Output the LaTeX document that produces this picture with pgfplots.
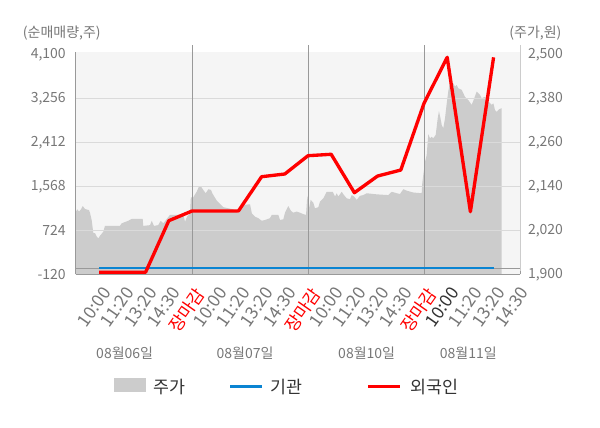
\documentclass[border=0pt]{standalone}
\usepackage{pgfplots}
\pgfplotsset{compat=1.18}
\usepackage{fontspec}
\setmainfont{Noto Sans CJK KR}
\definecolor{bgc}{HTML}{F5F5F5}
\definecolor{areac}{HTML}{CCCCCC}
\definecolor{gridc}{HTML}{DADADA}
\definecolor{sepc}{HTML}{999999}
\definecolor{rightc}{HTML}{CCCCCC}
\definecolor{tickc}{HTML}{777777}
\definecolor{darkc}{HTML}{333333}
\definecolor{bluec}{HTML}{0A84D2}
\definecolor{redc}{HTML}{FF0000}
\begin{document}
\begin{tikzpicture}
\useasboundingbox (0,0) rectangle (450pt,321pt);
% right axis: price area
\begin{axis}[
  at={(57pt,115.275pt)}, anchor=south west, scale only axis,
  width=333pt, height=166.95pt,
  xmin=0, xmax=3.8276, ymin=1900, ymax=2507,
  axis background/.style={fill=bgc},
  axis line style={draw=none},
  xtick=\empty,
  ytick={1900,2020,2140,2260,2380,2500},
  yticklabels={{1,900},{2,020},{2,140},{2,260},{2,380},{2,500}},
  yticklabel pos=right,
  major tick length=0pt,
  yticklabel style={font=\fontsize{10.5}{12}\selectfont, text=tickc, anchor=west, inner sep=0pt, xshift=5.8pt},
]
\addplot[fill=areac, draw=none] coordinates {
(0,1900)
(0.000,2071)(0.011,2077)(0.026,2071)(0.043,2077)(0.058,2086)(0.078,2078)(0.112,2075)(0.121,2067)(0.135,2048)(0.149,2013)(0.164,2012)(0.178,2003)(0.192,1998)(0.207,2005)(0.235,2016)(0.250,2032)(0.379,2032)(0.394,2039)(0.451,2046)(0.480,2051)(0.575,2051)(0.580,2032)(0.638,2034)(0.653,2046)(0.672,2032)(0.709,2034)(0.730,2046)(0.753,2039)(0.810,2062)(0.925,2062)(0.940,2043)(0.957,2057)(0.983,2066)(0.990,2110)
(1.011,2110)(1.040,2125)(1.060,2139)(1.078,2139)(1.097,2130)(1.118,2121)(1.141,2132)(1.164,2130)(1.175,2121)(1.192,2112)(1.213,2101)(1.241,2092)(1.270,2083)(1.313,2080)(1.356,2077)(1.399,2066)(1.442,2089)(1.500,2091)(1.516,2066)(1.543,2057)(1.572,2053)(1.601,2046)(1.629,2048)(1.672,2053)(1.688,2062)(1.744,2062)(1.759,2048)(1.787,2050)(1.802,2068)(1.830,2086)(1.853,2073)(1.873,2068)(1.903,2071)(1.931,2068)(1.959,2064)(1.983,2062)
(1.994,2114)(2.009,2080)(2.023,2103)(2.046,2095)(2.060,2080)(2.089,2083)(2.103,2098)(2.132,2107)(2.161,2125)(2.213,2125)(2.233,2112)(2.247,2121)(2.261,2112)(2.291,2125)(2.310,2116)(2.334,2107)(2.362,2105)(2.377,2116)(2.397,2112)(2.420,2103)(2.448,2114)(2.477,2116)(2.506,2121)(2.592,2118)(2.692,2116)(2.722,2125)(2.765,2121)(2.793,2119)(2.822,2132)(2.851,2128)(2.908,2123)(2.980,2121)
(2.985,2148)(2.994,2171)(3.009,2207)(3.023,2225)(3.037,2282)(3.052,2271)(3.066,2275)(3.080,2271)(3.101,2280)(3.118,2325)(3.129,2345)(3.141,2327)(3.153,2307)(3.166,2298)(3.181,2325)(3.196,2366)(3.209,2398)(3.224,2425)(3.239,2407)(3.253,2421)(3.267,2412)(3.282,2416)(3.296,2407)(3.325,2403)(3.353,2384)(3.382,2375)(3.411,2362)(3.425,2373)(3.454,2398)(3.483,2389)(3.497,2380)(3.526,2384)(3.555,2371)(3.584,2362)(3.598,2366)(3.612,2348)(3.627,2343)(3.647,2350)(3.670,2353)
(3.670,1900)
} \closedcycle;
\end{axis}
% left axis: net trading volume
\begin{axis}[
  at={(57pt,115.275pt)}, anchor=south west, scale only axis,
  width=333pt, height=166.95pt,
  xmin=0, xmax=3.8276, ymin=-120, ymax=4150,
  clip=false,
  axis line style={draw=none},
  major tick length=0pt,
  xtick={0.2,0.4,0.6,0.8,1.0,1.2,1.4,1.6,1.8,2.0,2.2,2.4,2.6,2.8,3.0,3.2,3.4,3.6,3.8},
  xticklabels={{10:00},{11:20},{13:20},{14:30},{\textcolor{redc}{장마감}},
               {10:00},{11:20},{13:20},{14:30},{\textcolor{redc}{장마감}},
               {10:00},{11:20},{13:20},{14:30},{\textcolor{redc}{장마감}},
               {\textcolor{darkc}{10:00}},{11:20},{13:20},{14:30}},
  xticklabel style={font=\fontsize{13}{14}\selectfont, text=tickc, inner sep=0pt, xshift=1.5pt, yshift=-8.3pt, anchor=north east, rotate=55},
  ytick={-120,724,1568,2412,3256,4100},
  yticklabels={{-120},{724},{1,568},{2,412},{3,256},{4,100}},
  yticklabel style={font=\fontsize{10.5}{12}\selectfont, text=tickc, anchor=east, inner sep=0pt, xshift=-7.5pt},
  extra y ticks={724,1568,2412,3256},
  extra y tick labels={},
  extra y tick style={grid=major, major grid style={gridc, line width=0.75pt}},
]
\coordinate (top) at (rel axis cs:0,1.03);
\coordinate (b0) at (axis cs:0,-120);
\coordinate (b1) at (axis cs:1,-120);
\coordinate (b2) at (axis cs:2,-120);
\coordinate (b3) at (axis cs:3,-120);
\coordinate (b4) at (axis cs:3.8276,-120);
\draw[sepc, line width=0.75pt] (b0) -- (b4);
\draw[sepc, line width=0.75pt] (b0) -- (rel axis cs:0,1);
\draw[rightc, line width=0.75pt] (b4) -- (b4 |- top);
\draw[sepc, line width=0.75pt] (b1) -- (b1 |- top);
\draw[sepc, line width=0.75pt] (b2) -- (b2 |- top);
\draw[sepc, line width=0.75pt] (b3) -- (b3 |- top);
\draw[sepc, line width=0.75pt] (b0) -- ++(0,-2.5pt);
\draw[sepc, line width=0.75pt] (b1) -- ++(0,-2.5pt);
\draw[sepc, line width=0.75pt] (b2) -- ++(0,-2.5pt);
\draw[sepc, line width=0.75pt] (b3) -- ++(0,-2.5pt);
\draw[sepc, line width=0.75pt] (b4) -- ++(0,-2.5pt);
\draw[sepc, line width=0.75pt] (axis cs:0,0) -- (axis cs:3.8276,0);
\addplot[bluec, line width=2pt] coordinates {(0.2,0)(3.6,0)};
\addplot[redc, line width=2.5pt, line join=round] coordinates {
(0.2,-80)(0.4,-80)(0.6,-80)(0.8,908)(1.0,1094)(1.2,1094)(1.4,1094)(1.6,1752)(1.8,1804)(2.0,2155)(2.2,2182)(2.4,1445)(2.6,1765)(2.8,1880)(3.0,3160)(3.2,4042)(3.4,1081)(3.6,4042)
};
\end{axis}
% titles
\node[anchor=west, inner sep=0pt, font=\fontsize{10.5}{12}\selectfont, text=tickc] at (17pt,296pt) {(순매매량,주)};
\node[anchor=east, inner sep=0pt, font=\fontsize{10.5}{12}\selectfont, text=tickc] at (421.3pt,296pt) {(주가,원)};
% date labels
\node[font=\fontsize{10.5}{12}\selectfont, text=tickc] at (93.5pt,56pt) {08월06일};
\node[font=\fontsize{10.5}{12}\selectfont, text=tickc] at (183.75pt,56pt) {08월07일};
\node[font=\fontsize{10.5}{12}\selectfont, text=tickc] at (275pt,56pt) {08월10일};
\node[font=\fontsize{10.5}{12}\selectfont, text=tickc] at (351.2pt,56pt) {08월11일};
% legend
\fill[areac] (85.5pt,27.2pt) rectangle (109.3pt,37.3pt);
\node[anchor=west, inner sep=0pt, font=\fontsize{13}{15}\selectfont, text=darkc] at (115pt,31pt) {주가};
\draw[bluec, line width=2.2pt] (172.5pt,31pt) -- (196.3pt,31pt);
\node[anchor=west, inner sep=0pt, font=\fontsize{13}{15}\selectfont, text=darkc] at (202.5pt,31pt) {기관};
\draw[redc, line width=2.2pt] (276.2pt,31pt) -- (300pt,31pt);
\node[anchor=west, inner sep=0pt, font=\fontsize{13}{15}\selectfont, text=darkc] at (307.5pt,31pt) {외국인};
\end{tikzpicture}
\end{document}
